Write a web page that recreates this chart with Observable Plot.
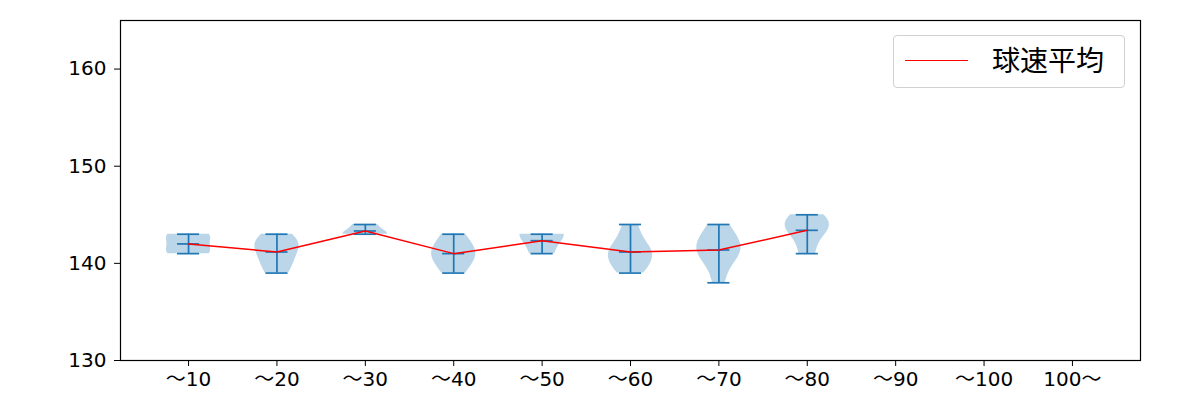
<!DOCTYPE html>
<html>
<head>
<meta charset="utf-8">
<script src="https://cdn.jsdelivr.net/npm/d3@7"></script>
<script src="https://cdn.jsdelivr.net/npm/@observablehq/plot@0.6"></script>
<style>
  body { margin: 0; background: #fff; }
  #wrap { position: relative; width: 1200px; height: 400px; font-family: "Noto Sans CJK JP", "Noto Sans", sans-serif; }
  #legend { position: absolute; left: 893px; top: 35px; width: 232px; height: 53px; border: 1px solid #d0d0d0; border-radius: 4px; background: rgba(255,255,255,0.8); box-sizing: border-box; }
  #legend .sw { position: absolute; left: 11px; top: 24px; width: 63px; height: 0; border-top: 1.5px solid red; }
  #legend .lb { position: absolute; left: 98px; top: 5px; font-size: 28px; line-height: 36px; color: #000; }
</style>
</head>
<body>
<div id="wrap"></div>
<script>
const categories = ["～10","～20","～30","～40","～50","～60","～70","～80","～90","～100","100～"];
// estimated individual speeds (km/h) per category (empty = no data)
const samples = [
  [141,141,142,143,143],
  [139,140,141,142,142,143],
  [143,143,144],
  [139,140,141,141,142,143],
  [141,143,143],
  [139,140,141,141,142,144],
  [138,140,141,141,142,142,143,144],
  [141,143,144,144,145],
  [], [], []
];
const yTicks = [130,140,150,160];
const legendLabel = "球速平均";

const blue = "#1f77b4";
const positions = categories.map((_, i) => i + 1);

// Gaussian KDE (Scott's rule), as matplotlib violinplot
function kde(vals, pts = 100) {
  const n = vals.length;
  const mean = d3.mean(vals);
  const sd = Math.sqrt(d3.sum(vals, v => (v - mean) ** 2) / (n - 1));
  const bw = sd * Math.pow(n, -0.2);
  const lo = d3.min(vals), hi = d3.max(vals);
  const out = [];
  for (let k = 0; k < pts; k++) {
    const y = lo + (hi - lo) * k / (pts - 1);
    const d = d3.sum(vals, v => Math.exp(-0.5 * ((y - v) / bw) ** 2));
    out.push({y, d});
  }
  const m = d3.max(out, o => o.d);
  out.forEach(o => o.w = o.d / m * 0.25);
  return out;
}

const bodies = [];
const stats = [];
samples.forEach((vals, i) => {
  if (!vals.length) return;
  const pos = positions[i];
  kde(vals).forEach(o => bodies.push({cat: categories[i], y: o.y, x1: pos - o.w, x2: pos + o.w}));
  stats.push({pos, min: d3.min(vals), max: d3.max(vals), mean: d3.mean(vals)});
});
const caps = stats.flatMap(s => [s.min, s.max, s.mean].map(v => ({pos: s.pos, v})));

const chart = Plot.plot({
  width: 1200,
  height: 400,
  marginLeft: 120,
  marginRight: 60,
  marginTop: 20,
  marginBottom: 40,
  style: {fontFamily: '"DejaVu Sans", "Noto Sans CJK JP", sans-serif', fontSize: "20px", color: "#000", background: "#fff"},
  x: {type: "linear", domain: [0.23, 11.77], ticks: positions, tickFormat: d => categories[d - 1], tickSize: 6, tickPadding: 5, label: null},
  y: {domain: [130, 165], ticks: yTicks, tickSize: 6, tickPadding: 8, label: null},
  marks: [
    Plot.areaX(bodies, {y: "y", x1: "x1", x2: "x2", z: "cat", fill: blue, fillOpacity: 0.3, curve: "linear"}),
    Plot.ruleX(stats, {x: "pos", y1: "min", y2: "max", stroke: blue, strokeWidth: 1.7}),
    Plot.ruleY(caps, {y: "v", x1: d => d.pos - 0.125, x2: d => d.pos + 0.125, stroke: blue, strokeWidth: 1.7}),
    Plot.line(stats, {x: "pos", y: "mean", stroke: "red", strokeWidth: 1.5}),
    Plot.frame({stroke: "#000", strokeWidth: 1.2})
  ]
});

const wrap = document.getElementById("wrap");
wrap.appendChild(chart);
const lg = document.createElement("div");
lg.id = "legend";
lg.innerHTML = `<div class="sw"></div><div class="lb">${legendLabel}</div>`;
wrap.appendChild(lg);
</script>
</body>
</html>
